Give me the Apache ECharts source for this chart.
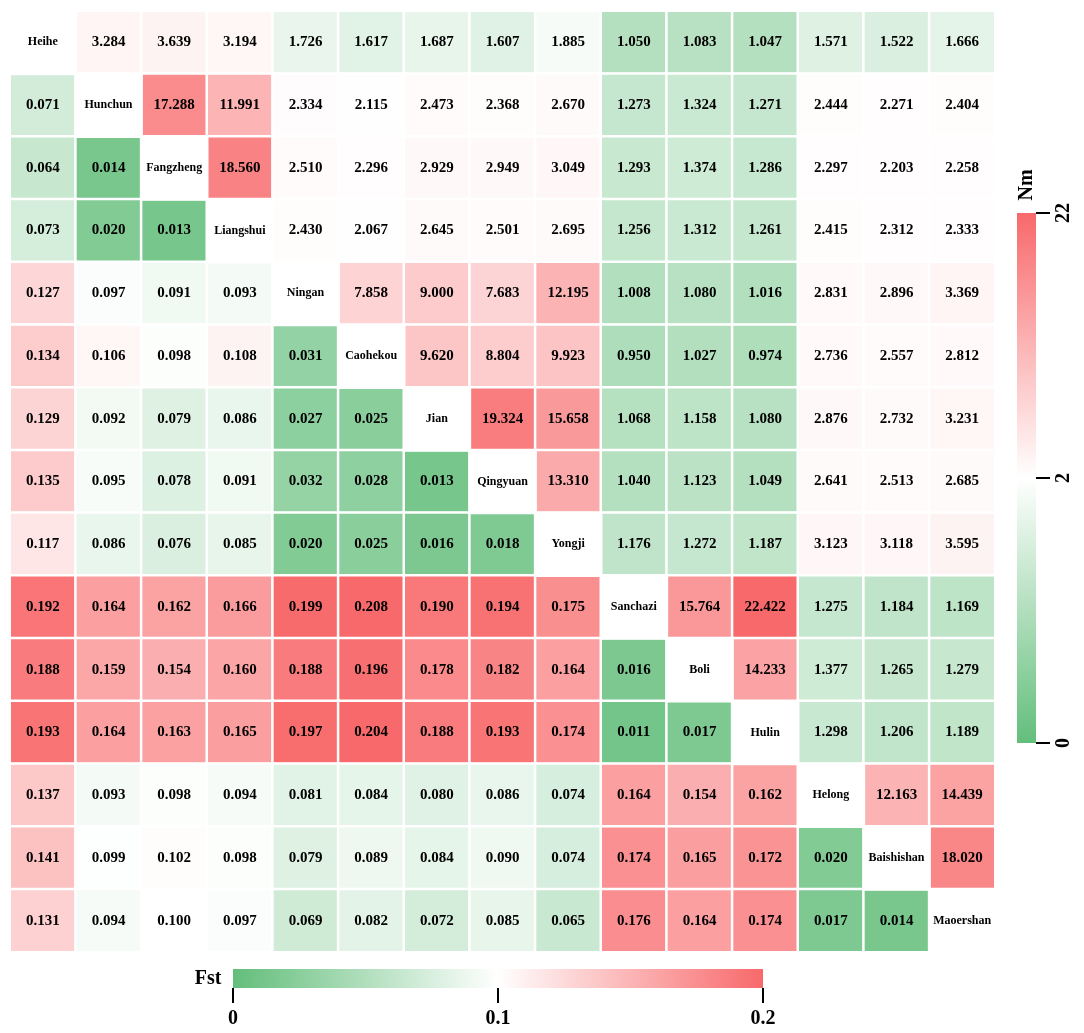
<!DOCTYPE html>
<html style="height: 100%">
<head>
    <meta charset="utf-8">
    <title>Fst / Nm heatmap</title>
    <script src="https://cdn.jsdelivr.net/npm/echarts@6/dist/echarts.min.js"></script>
</head>
<body style="height: 100%; margin: 0; background: #fff">
<div id="container" style="width: 1084px; height: 1033px"></div>

<script type="text/javascript">

    // population names (also the diagonal labels)
    let names = ['Heihe', 'Hunchun', 'Fangzheng', 'Liangshui', 'Ningan', 'Caohekou', 'Jian', 'Qingyuan',
        'Yongji', 'Sanchazi', 'Boli', 'Hulin', 'Helong', 'Baishishan', 'Maoershan'];

    // upper triangle: Nm, row i holds columns i+1 .. 14
    let nmRows = [
        [3.284, 3.639, 3.194, 1.726, 1.617, 1.687, 1.607, 1.885, 1.050, 1.083, 1.047, 1.571, 1.522, 1.666],
        [17.288, 11.991, 2.334, 2.115, 2.473, 2.368, 2.670, 1.273, 1.324, 1.271, 2.444, 2.271, 2.404],
        [18.560, 2.510, 2.296, 2.929, 2.949, 3.049, 1.293, 1.374, 1.286, 2.297, 2.203, 2.258],
        [2.430, 2.067, 2.645, 2.501, 2.695, 1.256, 1.312, 1.261, 2.415, 2.312, 2.333],
        [7.858, 9.000, 7.683, 12.195, 1.008, 1.080, 1.016, 2.831, 2.896, 3.369],
        [9.620, 8.804, 9.923, 0.950, 1.027, 0.974, 2.736, 2.557, 2.812],
        [19.324, 15.658, 1.068, 1.158, 1.080, 2.876, 2.732, 3.231],
        [13.310, 1.040, 1.123, 1.049, 2.641, 2.513, 2.685],
        [1.176, 1.272, 1.187, 3.123, 3.118, 3.595],
        [15.764, 22.422, 1.275, 1.184, 1.169],
        [14.233, 1.377, 1.265, 1.279],
        [1.298, 1.206, 1.189],
        [12.163, 14.439],
        [18.020],
        []
    ];

    // lower triangle: Fst, row i holds columns 0 .. i-1
    let fstRows = [
        [],
        [0.071],
        [0.064, 0.014],
        [0.073, 0.020, 0.013],
        [0.127, 0.097, 0.091, 0.093],
        [0.134, 0.106, 0.098, 0.108, 0.031],
        [0.129, 0.092, 0.079, 0.086, 0.027, 0.025],
        [0.135, 0.095, 0.078, 0.091, 0.032, 0.028, 0.013],
        [0.117, 0.086, 0.076, 0.085, 0.020, 0.025, 0.016, 0.018],
        [0.192, 0.164, 0.162, 0.166, 0.199, 0.208, 0.190, 0.194, 0.175],
        [0.188, 0.159, 0.154, 0.160, 0.188, 0.196, 0.178, 0.182, 0.164, 0.016],
        [0.193, 0.164, 0.163, 0.165, 0.197, 0.204, 0.188, 0.193, 0.174, 0.011, 0.017],
        [0.137, 0.093, 0.098, 0.094, 0.081, 0.084, 0.080, 0.086, 0.074, 0.164, 0.154, 0.162],
        [0.141, 0.099, 0.102, 0.098, 0.079, 0.089, 0.084, 0.090, 0.074, 0.174, 0.165, 0.172, 0.020],
        [0.131, 0.094, 0.100, 0.097, 0.069, 0.082, 0.072, 0.085, 0.065, 0.176, 0.164, 0.174, 0.017, 0.014]
    ];

    // colour-bar tick labels
    let fstTicks = ['0', '0.1', '0.2'];
    let nmTicks = ['0', '2', '22'];

    let green = '#63BE7B', white = '#FFFFFF', red = '#F8696B';
    let font = 'Liberation Serif';

    // Nm scale is split: 0-2 is the lower half, 2-22 the upper half
    function nmScaled(v) {
        return v <= 2 ? v / 2 : 1 + (v - 2) / 20;
    }

    let fstData = [], nmData = [], diagData = [];
    fstRows.forEach(function (row, i) {
        row.forEach(function (v, j) { fstData.push([j, i, v]); });
    });
    nmRows.forEach(function (row, i) {
        row.forEach(function (v, k) { nmData.push([i + 1 + k, i, v, nmScaled(v)]); });
    });
    names.forEach(function (n, i) { diagData.push([i, i, 0]); });

    let cellLabel = {
        show: true,
        fontFamily: font,
        fontWeight: 'bold',
        fontSize: 15,
        color: '#000',
        formatter: function (p) { return p.value[2].toFixed(3); }
    };
    let cellStyle = { borderColor: '#fff', borderWidth: 2.5 };

    // colour bars: geometry in pixels
    let fBar = { x: 233, y: 969, w: 530, h: 19 };
    let nBar = { x: 1017, y: 213, w: 19, h: 530 };

    let graphics = [];
    graphics.push({
        type: 'rect', shape: { x: fBar.x, y: fBar.y, width: fBar.w, height: fBar.h },
        style: {
            fill: new echarts.graphic.LinearGradient(0, 0, 1, 0, [
                { offset: 0, color: green }, { offset: 0.5, color: white }, { offset: 1, color: red }])
        }
    });
    graphics.push({
        type: 'text', x: 208, y: fBar.y + fBar.h / 2,
        style: { text: 'Fst', font: 'bold 20px ' + font, fill: '#000', align: 'center', verticalAlign: 'middle' }
    });
    fstTicks.forEach(function (t, k) {
        let tx = fBar.x + fBar.w * k / (fstTicks.length - 1);
        graphics.push({
            type: 'line', shape: { x1: tx, y1: fBar.y + fBar.h, x2: tx, y2: fBar.y + fBar.h + 15 },
            style: { stroke: '#000', lineWidth: 2 }
        });
        graphics.push({
            type: 'text', x: tx, y: 1019,
            style: { text: t, font: 'bold 20px ' + font, fill: '#000', align: 'center', verticalAlign: 'middle' }
        });
    });

    graphics.push({
        type: 'rect', shape: { x: nBar.x, y: nBar.y, width: nBar.w, height: nBar.h },
        style: {
            fill: new echarts.graphic.LinearGradient(0, 1, 0, 0, [
                { offset: 0, color: green }, { offset: 0.5, color: white }, { offset: 1, color: red }])
        }
    });
    graphics.push({
        type: 'text', x: nBar.x + nBar.w / 2, y: 185, rotation: Math.PI / 2,
        style: { text: 'Nm', font: 'bold 20px ' + font, fill: '#000', align: 'center', verticalAlign: 'middle' }
    });
    nmTicks.forEach(function (t, k) {
        let ty = nBar.y + nBar.h - nBar.h * k / (nmTicks.length - 1);
        graphics.push({
            type: 'line', shape: { x1: nBar.x + nBar.w, y1: ty, x2: nBar.x + nBar.w + 14, y2: ty },
            style: { stroke: '#000', lineWidth: 2 }
        });
        graphics.push({
            type: 'text', x: 1064, y: ty, rotation: Math.PI / 2,
            style: { text: t, font: 'bold 20px ' + font, fill: '#000', align: 'center', verticalAlign: 'middle' }
        });
    });

    let chart = echarts.init(document.getElementById('container'));

    chart.setOption({
        animation: false,
        grid: { left: 10, top: 11, width: 985, height: 941 },
        xAxis: { type: 'category', data: names, show: false },
        yAxis: { type: 'category', data: names, inverse: true, show: false },
        visualMap: [
            {
                type: 'continuous', show: false, seriesIndex: 0, dimension: 2,
                min: 0, max: 0.2, inRange: { color: [green, white, red] }
            },
            {
                type: 'continuous', show: false, seriesIndex: 1, dimension: 3,
                min: 0, max: 2, inRange: { color: [green, white, red] }
            }
        ],
        graphic: graphics,
        series: [
            { type: 'heatmap', data: fstData, label: cellLabel, itemStyle: cellStyle },
            { type: 'heatmap', data: nmData, label: cellLabel, itemStyle: cellStyle },
            {
                type: 'heatmap', data: diagData,
                itemStyle: { color: '#fff', borderColor: '#fff', borderWidth: 2.5 },
                label: {
                    show: true, fontFamily: font, fontWeight: 'bold', fontSize: 12, color: '#000',
                    formatter: function (p) { return names[p.value[0]]; }
                }
            }
        ]
    });

</script>
</body>
</html>
